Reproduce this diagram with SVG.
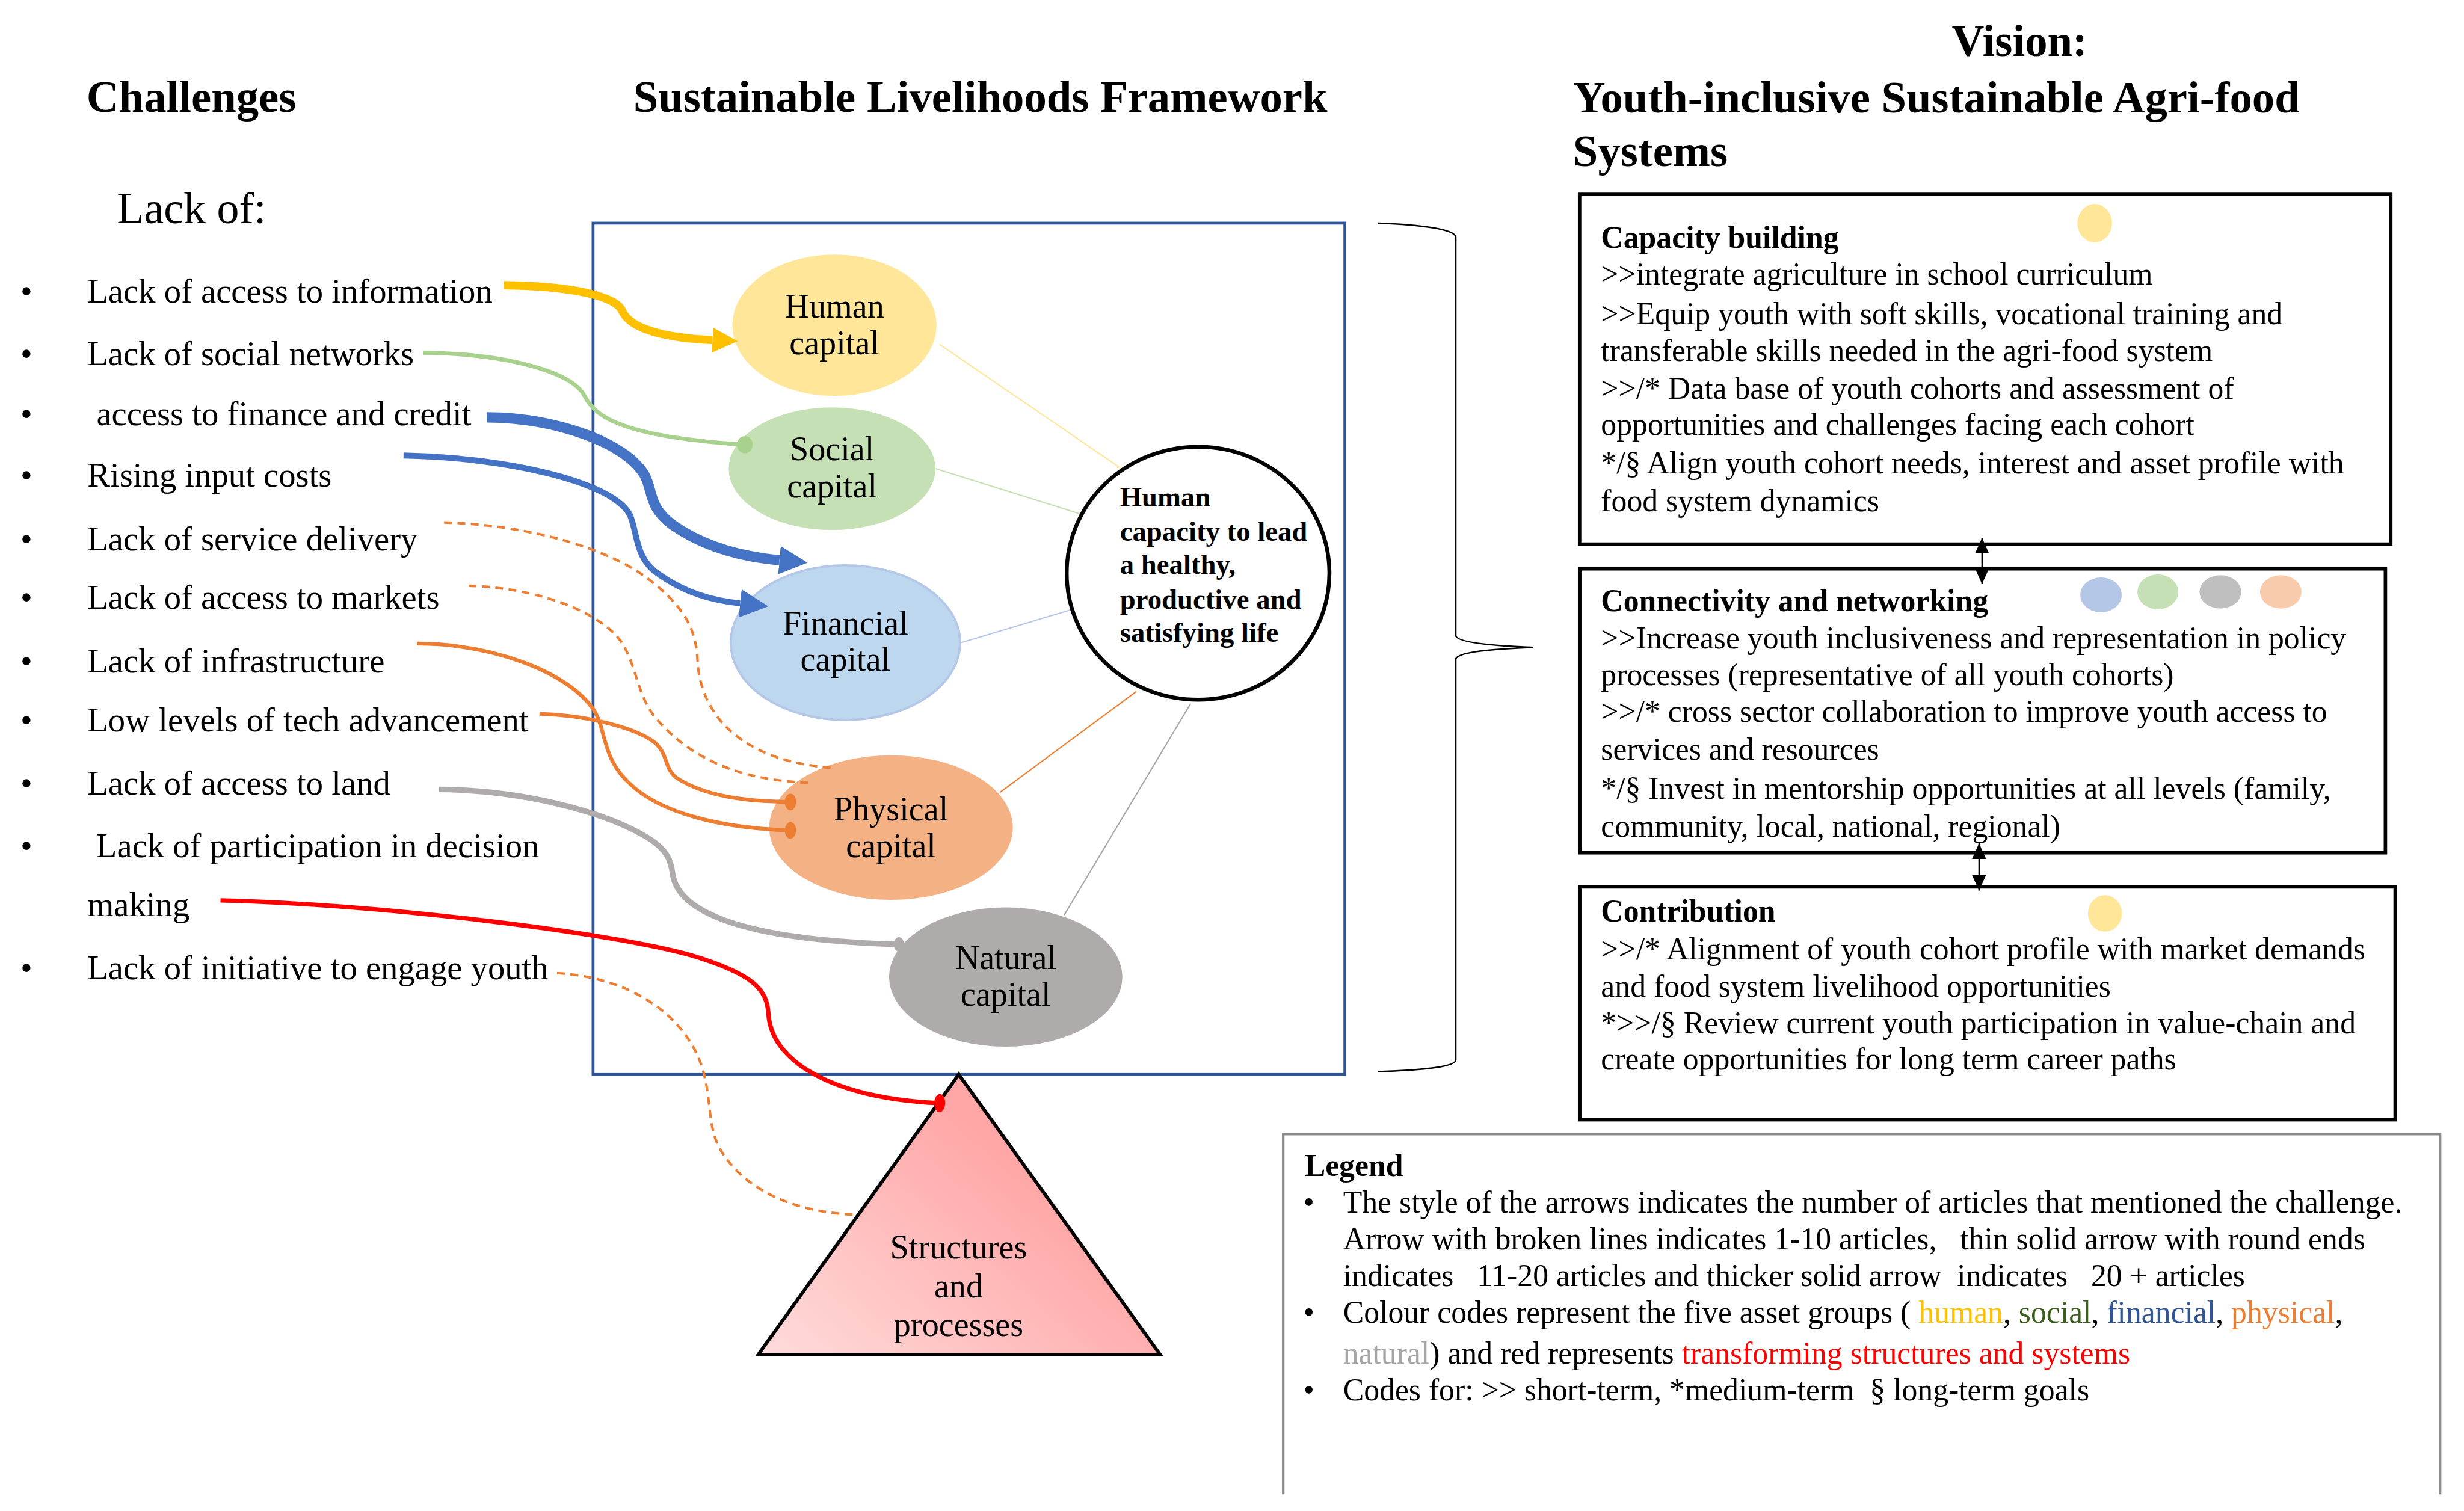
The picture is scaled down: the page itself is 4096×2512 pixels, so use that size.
<svg xmlns="http://www.w3.org/2000/svg" width="4096" height="2512" viewBox="0 0 4096 2512">
<style>
.t{font-family:"Liberation Serif","Times New Roman",serif;fill:#000}
.title{font-size:28.6px;font-weight:bold}
.list{font-size:21.7px}
.cap{font-size:21.5px;text-anchor:middle}
.ctr{font-size:17.9px;font-weight:bold}
.vt{font-size:19.8px}
.b{font-weight:bold}
.box{fill:none;stroke:#000;stroke-width:2.2}
.link{fill:none;stroke-width:0.8}
.cv{fill:none;stroke-linecap:butt}
.dash{stroke:#ED7D31;stroke-width:1.6;stroke-dasharray:5 3.5}
</style>
<defs>
<marker id="arrY" viewBox="0 0 16 16" refX="0" refY="8" markerWidth="16" markerHeight="16" markerUnits="userSpaceOnUse" orient="auto"><path d="M0,0 L16,8 L0,16 Z" fill="#FFC000"/></marker>
<marker id="arrB" viewBox="0 0 18 18" refX="0" refY="9" markerWidth="18" markerHeight="18" markerUnits="userSpaceOnUse" orient="auto"><path d="M0,0 L18,9 L0,18 Z" fill="#4472C4"/></marker>
<marker id="arrK" viewBox="0 0 10 9" refX="10" refY="4.5" markerWidth="10" markerHeight="9" markerUnits="userSpaceOnUse" orient="auto-start-reverse"><path d="M0,0 L10,4.5 L0,9 Z" fill="#000"/></marker>
<marker id="dotG" viewBox="-6 -6 12 12" refX="0" refY="0" markerWidth="12" markerHeight="12" markerUnits="userSpaceOnUse" orient="auto"><ellipse rx="5" ry="5.5" fill="#A9D18E"/></marker>
<marker id="dotO" viewBox="-6 -6 12 12" refX="0" refY="0" markerWidth="12" markerHeight="12" markerUnits="userSpaceOnUse" orient="auto"><ellipse rx="3.6" ry="5.3" fill="#ED7D31"/></marker>
<marker id="dotR" viewBox="-6 -6 12 12" refX="0" refY="0" markerWidth="12" markerHeight="12" markerUnits="userSpaceOnUse" orient="auto"><ellipse rx="3.5" ry="5.8" fill="#FF0000"/></marker>
<marker id="dotGy" viewBox="-6 -6 12 12" refX="0" refY="0" markerWidth="12" markerHeight="12" markerUnits="userSpaceOnUse" orient="auto"><ellipse rx="3.3" ry="4.6" fill="#AFABAB"/></marker>
<linearGradient id="triGrad" x1="0" y1="1" x2="1" y2="0.2"><stop offset="0" stop-color="#FFDCDC"/><stop offset="0.7" stop-color="#FFA8A8"/><stop offset="1" stop-color="#FFA0A0"/></linearGradient>
</defs>
<rect width="4096" height="2512" fill="#fff"/>
<g transform="scale(2.61224)">
<g id="titles">
<text class="t title" x="55" y="71.3">Challenges</text>
<text class="t title" x="403" y="71.3">Sustainable Livelihoods Framework</text>
<text class="t title" x="1242" y="35.5">Vision:</text>
<text class="t title" x="1001" y="71.7">Youth-inclusive Sustainable Agri-food</text>
<text class="t title" x="1001" y="105.8">Systems</text>
</g>
<g id="challenges">
<text class="t" x="74.4" y="141.9" style="font-size:28.3px">Lack of:</text>
<g class="t list">
<text x="13" y="192.4">•</text><text x="55.6" y="192.4">Lack of access to information</text>
<text x="13" y="232.3">•</text><text x="55.6" y="232.3">Lack of social networks</text>
<text x="13" y="270.5">•</text><text x="61.4" y="270.5">access to finance and credit</text>
<text x="13" y="309.8">•</text><text x="55.6" y="309.8">Rising input costs</text>
<text x="13" y="350.2">•</text><text x="55.6" y="350.2">Lack of service delivery</text>
<text x="13" y="387.5">•</text><text x="55.6" y="387.5">Lack of access to markets</text>
<text x="13" y="427.8">•</text><text x="55.6" y="427.8">Lack of infrastructure</text>
<text x="13" y="465.6">•</text><text x="55.6" y="465.6">Low levels of tech advancement</text>
<text x="13" y="505.7">•</text><text x="55.6" y="505.7">Lack of access to land</text>
<text x="13" y="545.5">•</text><text x="61.2" y="545.5">Lack of participation in decision</text>
<text x="55.6" y="583.2">making</text>
<text x="13" y="623.1">•</text><text x="55.6" y="623.1">Lack of initiative to engage youth</text>
</g>
</g>
<g id="slf-frame"><rect x="377.4" y="142" width="478.4" height="541.8" fill="none" stroke="#2F5597" stroke-width="1.8"/></g>
<g id="capital-links">
<line class="link" x1="598" y1="219.2" x2="715" y2="299.2" stroke="#FFE699"/>
<line class="link" x1="595.3" y1="298.2" x2="693.6" y2="329" stroke="#C5E0B4"/>
<line class="link" x1="602.9" y1="411.6" x2="682.1" y2="387.9" stroke="#B4C7E7"/>
<line class="link" x1="636.3" y1="504.3" x2="723.1" y2="440.1" stroke="#ED7D31"/>
<line class="link" x1="677.2" y1="582.4" x2="757.6" y2="447.9" stroke="#A5A5A5"/>
</g>
<g id="human-capital"><ellipse cx="531" cy="207" rx="65" ry="45" fill="#FFE699"/><text class="t cap" x="531" y="202">Human</text><text class="t cap" x="531" y="225.5">capital</text></g>
<g id="social-capital"><ellipse cx="529.5" cy="298.3" rx="65.8" ry="39" fill="#C5E0B4"/><text class="t cap" x="529.5" y="292.9">Social</text><text class="t cap" x="529.5" y="316.5">capital</text></g>
<g id="financial-capital"><ellipse cx="538" cy="409" rx="73" ry="49.2" fill="#BDD7EE" stroke="#B4C7E7" stroke-width="1.5"/><text class="t cap" x="538" y="403.8">Financial</text><text class="t cap" x="538" y="426.7">capital</text></g>
<g id="physical-capital"><ellipse cx="567" cy="526.7" rx="77.5" ry="46" fill="#F4B183"/><text class="t cap" x="567" y="522.1">Physical</text><text class="t cap" x="567" y="545.5">capital</text></g>
<g id="natural-capital"><ellipse cx="640" cy="621.8" rx="74.2" ry="44.3" fill="#AFABAB"/><text class="t cap" x="640" y="616.7">Natural</text><text class="t cap" x="640" y="640.1">capital</text></g>
<g id="human-capacity"><ellipse cx="762.4" cy="364.8" rx="83.6" ry="80.5" fill="#fff" stroke="#000" stroke-width="2.5"/>
<g class="t ctr"><text x="712.7" y="322.2">Human</text><text x="712.7" y="344">capacity to lead</text><text x="712.7" y="365.3">a healthy,</text><text x="712.7" y="387.4">productive and</text><text x="712.7" y="408.6">satisfying life</text></g></g>
<g id="structures"><polygon points="610.1,683.8 738.3,862.1 482.5,862.1" fill="url(#triGrad)" stroke="#000" stroke-width="2.2" stroke-linejoin="miter"/>
<text class="t cap" x="610" y="801">Structures</text><text class="t cap" x="610" y="825.6">and</text><text class="t cap" x="610" y="850.3">processes</text></g>
<g id="connectors">
<path class="cv" d="M320.7,181.5 C362,182 392,188 396,198 C401,209 422,215 453.4,216.4" stroke="#FFC000" stroke-width="5.2" marker-end="url(#arrY)"/>
<path class="cv" d="M269.4,224.5 C320,225 364,236 372,252 C379,266 398,278 474,283" stroke="#A9D18E" stroke-width="2.6" marker-end="url(#dotG)"/>
<path class="cv" d="M310,265.6 C355,266 398,282 410,302 C416,313 412,322 428,334 C445,346 468,354 496,356.5" stroke="#4472C4" stroke-width="6.6" marker-end="url(#arrB)"/>
<path class="cv" d="M256.8,289.9 C320,291 390,306 401,328 C406,340 404,356 420,366 C436,377 452,382 471,384" stroke="#4472C4" stroke-width="3.8" marker-end="url(#arrB)"/>
<path class="cv dash" d="M282.6,332.5 C335,334 385,348 412,368 C438,388 443,402 444,422 C446,452 468,484 529.8,488.7"/>
<path class="cv dash" d="M298.2,372.8 C340,374 380,388 395,408 C406,424 405,445 420,460 C440,482 470,497 516.7,498.2"/>
<path class="cv" d="M265.6,409.6 C315,410 362,428 378,452 C386,465 383,482 400,498 C420,518 460,527 503,528.5" stroke="#ED7D31" stroke-width="2.4" marker-end="url(#dotO)"/>
<path class="cv" d="M343.3,454.3 C370,455 402,462 416,472 C426,480 422,490 432,496 C450,507 475,510 503,510.4" stroke="#ED7D31" stroke-width="2.4" marker-end="url(#dotO)"/>
<path class="cv" d="M279.4,502.4 C330,503 382,515 412,533 C425,541 427,548 428,556 C431,578 465,598 572,601" stroke="#AFABAB" stroke-width="3.6" marker-end="url(#dotGy)"/>
<path class="cv" d="M140.3,573 C250,576 390,594 440,608 C480,620 488,630 489,645 C491,680 540,700 598,702" stroke="#FF0000" stroke-width="2.8" marker-end="url(#dotR)"/>
<path class="cv dash" d="M354.5,619.3 C400,622 436,645 447,680 C453,700 450,716 458,731 C475,760 510,772 545.4,773.1"/>
<path class="cv" d="M877,142 C905,143 926.4,146 926.4,151 V404.5 C927,409 950,411 975.7,412 C950,413 927,415 926.4,419.6 V674.5 C926.4,679 905,681 877,682" stroke="#000" stroke-width="1"/>
<line x1="1261.3" y1="342.3" x2="1261.3" y2="371.7" stroke="#000" stroke-width="0.9" marker-start="url(#arrK)" marker-end="url(#arrK)"/>
<line x1="1259.4" y1="536.7" x2="1259.4" y2="566.8" stroke="#000" stroke-width="0.9" marker-start="url(#arrK)" marker-end="url(#arrK)"/>
</g>
<g id="capacity-building">
<rect class="box" x="1005.2" y="123.7" width="516.2" height="222.6"/>
<ellipse cx="1333" cy="142" rx="11" ry="12.2" fill="#FFE699"/>
<g class="t vt">
<text class="b" x="1018.8" y="157.8">Capacity building</text>
<text x="1018.8" y="180.9">&gt;&gt;integrate agriculture in school curriculum</text>
<text x="1018.8" y="206.4">&gt;&gt;Equip youth with soft skills, vocational training and</text>
<text x="1018.8" y="229.5">transferable skills needed in the agri-food system</text>
<text x="1018.8" y="253.8">&gt;&gt;/* Data base of youth cohorts and assessment of</text>
<text x="1018.8" y="276.9">opportunities and challenges facing each cohort</text>
<text x="1018.8" y="301.2">*/§ Align youth cohort needs, interest and asset profile with</text>
<text x="1018.8" y="325.5">food system dynamics</text>
</g>
</g>
<g id="connectivity">
<rect class="box" x="1005.3" y="362" width="512.7" height="180.7"/>
<ellipse cx="1337" cy="378.6" rx="13.2" ry="11.1" fill="#B4C7E7"/>
<ellipse cx="1373.2" cy="376.7" rx="13" ry="11.1" fill="#C5E0B4"/>
<ellipse cx="1413" cy="376.7" rx="13.3" ry="10.6" fill="#BFBFBF"/>
<ellipse cx="1451.4" cy="376.7" rx="13.2" ry="10.6" fill="#F8CBAD"/>
<g class="t vt">
<text class="b" x="1018.8" y="389">Connectivity and networking</text>
<text x="1018.8" y="412.6">&gt;&gt;Increase youth inclusiveness and representation in policy</text>
<text x="1018.8" y="436">processes (representative of all youth cohorts)</text>
<text x="1018.8" y="459.4">&gt;&gt;/* cross sector collaboration to improve youth access to</text>
<text x="1018.8" y="483.5">services and resources</text>
<text x="1018.8" y="508.2">*/§ Invest in mentorship opportunities at all levels (family,</text>
<text x="1018.8" y="532.4">community, local, national, regional)</text>
</g>
</g>
<g id="contribution">
<rect class="box" x="1005.3" y="564.4" width="518.9" height="148.2"/>
<ellipse cx="1339.5" cy="581.3" rx="10.8" ry="11.6" fill="#FFE699"/>
<g class="t vt">
<text class="b" x="1018.8" y="586.6">Contribution</text>
<text x="1018.8" y="610.7">&gt;&gt;/* Alignment of youth cohort profile with market demands</text>
<text x="1018.8" y="634.3">and food system livelihood opportunities</text>
<text x="1018.8" y="657.7">*&gt;&gt;/§ Review current youth participation in value-chain and</text>
<text x="1018.8" y="680.5">create opportunities for long term career paths</text>
</g>
</g>
<g id="legend">
<path d="M816.6,951 V721.8 H1552.8 V951" fill="none" stroke="#8C8C8C" stroke-width="1.6"/>
<g class="t vt">
<text class="b" x="830.2" y="748.4">Legend</text>
<text x="829.5" y="771.7">•</text>
<text x="854.7" y="771.7">The style of the arrows indicates the number of articles that mentioned the challenge.</text>
<text x="854.7" y="795">Arrow with broken lines indicates 1-10 articles,&#160;&#160; thin solid arrow with round ends</text>
<text x="854.7" y="818.5">indicates&#160;&#160; 11-20 articles and thicker solid arrow&#160; indicates&#160;&#160; 20 + articles</text>
<text x="829.5" y="841.9">•</text>
<text x="854.7" y="841.9">Colour codes represent the five asset groups ( <tspan fill="#FFC000">human</tspan>, <tspan fill="#3B5E1F">social</tspan>, <tspan fill="#2F5597">financial</tspan>, <tspan fill="#ED7D31">physical</tspan>,</text>
<text x="854.7" y="867.9"><tspan fill="#A5A5A5">natural</tspan>) and red represents <tspan fill="#FF0000">transforming structures and systems</tspan></text>
<text x="829.5" y="891.2">•</text>
<text x="854.7" y="891.2">Codes for: &gt;&gt; short-term, *medium-term&#160; § long-term goals</text>
</g>
</g>
</g>
</svg>
